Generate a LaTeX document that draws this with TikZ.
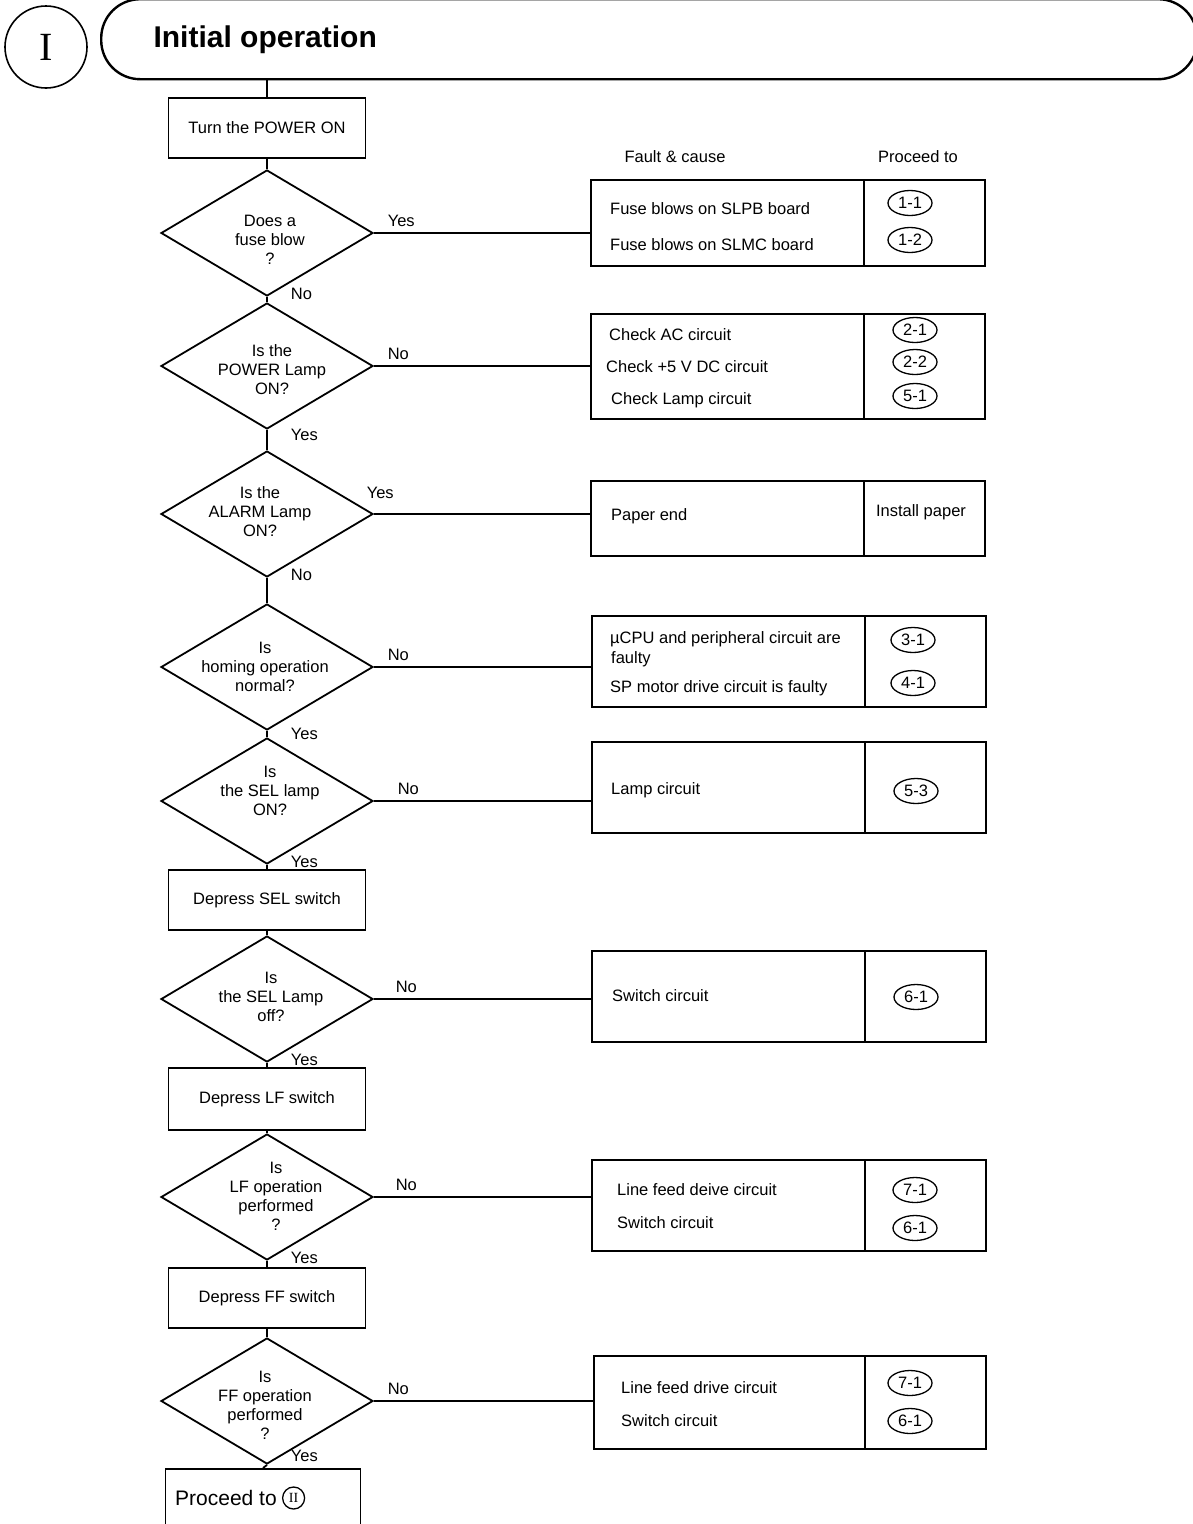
\documentclass[tikz,border=0pt]{standalone}
\usepackage{fontspec}
\setmainfont{Liberation Sans}
\newfontfamily\numfont{Liberation Serif}
\usetikzlibrary{shapes.geometric,positioning,calc}

\tikzset{
  stepbox/.style={draw, line width=1.8pt, minimum width=197pt, minimum height=60pt, inner sep=2pt},
  query/.style={draw, diamond, line width=1.8pt, minimum width=212pt, minimum height=126pt, inner sep=0pt},
  qtext/.style={align=center, inner sep=0pt},
  cause/.style={draw, line width=1.8pt, anchor=north west, minimum width=273pt, inner sep=0pt},
  target/.style={draw, line width=1.8pt, anchor=north west, minimum width=121pt, inner sep=0pt},
  item/.style={anchor=west, inner sep=0pt},
  ref/.style={draw, ellipse, line width=1.3pt, minimum width=44pt, minimum height=25pt, inner sep=0pt},
  side/.style={pos=0, anchor=south west, inner sep=1pt, xshift=12pt, yshift=4pt},
  down/.style={pos=0, anchor=west, inner sep=1pt, xshift=22pt, yshift=3pt},
  link/.style={line width=1.8pt},
}

\begin{document}
\begin{tikzpicture}[x=1pt, y=-1pt, font=\fontsize{16.5}{19}\selectfont]
    \useasboundingbox (0,0) rectangle (1193,1524);
    \clip (0,0) rectangle (1193,1524);

    % Header
    \node[circle, draw, line width=1.6pt, minimum size=82pt] (sec) at (46,47) {\numfont\fontsize{40}{42}\selectfont I};
    \node[draw, line width=2.4pt, rounded corners=39pt, anchor=north west, minimum width=1096pt, minimum height=80pt] (bar) at (100,-2) {};
    \node[anchor=west, font=\bfseries\fontsize{30}{34}\selectfont] (title) at (150,40) {Initial operation};

    % Column headings
    \node (hcause) at (675,157) {Fault \& cause};
    \node (hgo) at (918,157) {Proceed to};

    % Main column
    \node[stepbox] (power) at (267,128) {Turn the POWER ON};
    \node[query] (q1) at (267,233) {};
    \node[qtext] (q1t) at (270,240) {Does a\\fuse blow\\?};
    \node[query] (q2) at (267,366) {};
    \node[qtext] (q2t) at (272,370) {Is the\\POWER Lamp\\ON?};
    \node[query] (q3) at (267,514) {};
    \node[qtext] (q3t) at (260,512) {Is the\\ALARM Lamp\\ON?};
    \node[query] (q4) at (267,667) {};
    \node[qtext] (q4t) at (265,667) {Is\\homing operation\\normal?};
    \node[query] (q5) at (267,801) {};
    \node[qtext] (q5t) at (270,791) {Is\\the SEL lamp\\ON?};
    \node[stepbox] (sel) at (267,900) {Depress SEL switch};
    \node[query] (q6) at (267,999) {};
    \node[qtext] (q6t) at (271,997) {Is\\the SEL Lamp\\off?};
    \node[stepbox, minimum height=62pt] (lf) at (267,1099) {Depress LF switch};
    \node[query] (q7) at (267,1197) {};
    \node[qtext] (q7t) at (276,1196) {Is\\LF operation\\performed\\?};
    \node[stepbox] (ff) at (267,1298) {Depress FF switch};
    \node[query] (q8) at (267,1401) {};
    \node[qtext] (q8t) at (265,1405) {Is\\FF operation\\performed\\?};
    \node[draw, line width=1.8pt, anchor=north, minimum width=195pt, minimum height=80pt] (next) at (263,1468) {};
    \node[anchor=west, inner sep=0pt, font=\fontsize{21}{24}\selectfont] (nextt) at (175,1498) {Proceed to};
    \node[circle, draw, line width=1.3pt, minimum size=22pt, inner sep=0pt, right=5pt of nextt] (sec2) {\numfont\fontsize{14}{14}\selectfont II};

    % Fault & cause boxes
    \node[cause, minimum height=86pt] (c1) at (590,179) {};
    \node[target, minimum height=86pt] (p1) at (863,179) {};
    \node[item] (c1a) at (610,209) {Fuse blows on SLPB board};
    \node[item] (c1b) at (610,245) {Fuse blows on SLMC board};
    \node[ref] (r11) at (910,203) {1-1};
    \node[ref] (r12) at (910,240) {1-2};

    \node[cause, minimum height=105pt] (c2) at (590,313) {};
    \node[target, minimum height=105pt] (p2) at (863,313) {};
    \node[item] (c2a) at (609,335) {Check AC circuit};
    \node[item] (c2b) at (606,367) {Check +5 V DC circuit};
    \node[item] (c2c) at (611,400) {Check Lamp circuit};
    \node[ref] (r21) at (915,330) {2-1};
    \node[ref] (r22) at (915,362) {2-2};
    \node[ref] (r51) at (915,396) {5-1};

    \node[cause, minimum height=75pt] (c3) at (590,480) {};
    \node[target, minimum height=75pt] (p3) at (863,480) {};
    \node[item] (c3a) at (611,516) {Paper end};
    \node (p3a) at (921,512) {Install paper};

    \node[cause, minimum height=91pt] (c4) at (591,615) {};
    \node[target, minimum height=91pt] (p4) at (864,615) {};
    \node[item] (c4a) at (610,639) {µCPU and peripheral circuit are};
    \node[item] (c4b) at (611,659) {faulty};
    \node[item] (c4c) at (610,688) {SP motor drive circuit is faulty};
    \node[ref] (r31) at (913,640) {3-1};
    \node[ref] (r41) at (913,683) {4-1};

    \node[cause, minimum height=91pt] (c5) at (591,741) {};
    \node[target, minimum height=91pt] (p5) at (864,741) {};
    \node[item] (c5a) at (611,790) {Lamp circuit};
    \node[ref] (r53) at (916,791) {5-3};

    \node[cause, minimum height=91pt] (c6) at (591,950) {};
    \node[target, minimum height=91pt] (p6) at (864,950) {};
    \node[item] (c6a) at (612,996) {Switch circuit};
    \node[ref] (r61) at (916,997) {6-1};

    \node[cause, minimum height=91pt] (c7) at (591,1159) {};
    \node[target, minimum height=91pt] (p7) at (864,1159) {};
    \node[item] (c7a) at (617,1190) {Line feed deive circuit};
    \node[item] (c7b) at (617,1223) {Switch circuit};
    \node[ref] (r71) at (915,1190) {7-1};
    \node[ref] (r61b) at (915,1228) {6-1};

    \node[cause, minimum width=271pt, minimum height=93pt] (c8) at (593,1355) {};
    \node[target, minimum height=93pt] (p8) at (864,1355) {};
    \node[item] (c8a) at (621,1388) {Line feed drive circuit};
    \node[item] (c8b) at (621,1421) {Switch circuit};
    \node[ref] (r71b) at (910,1383) {7-1};
    \node[ref] (r61c) at (910,1421) {6-1};

    % Main flow
    \draw[link] (bar.south -| power.north) -- (power.north);
    \draw[link] (power.south) -- (q1.north);
    \draw[link] (q1.south) -- node[down] (n1) {No} (q2.north);
    \draw[link] (q2.south) -- node[down, yshift=-8pt] (n2) {Yes} (q3.north);
    \draw[link] (q3.south) -- node[down] (n3) {No} (q4.north);
    \draw[link] (q4.south) -- node[down, yshift=-6pt] (n4) {Yes} (q5.north);
    \draw[link] (q5.south) -- node[down] (n5) {Yes} (sel.north);
    \draw[link] (sel.south) -- (q6.north);
    \draw[link] (q6.south) -- node[down] (n6) {Yes} (lf.north);
    \draw[link] (lf.south) -- (q7.north);
    \draw[link] (q7.south) -- node[down] (n7) {Yes} (ff.north);
    \draw[link] (ff.south) -- (q8.north);
    \draw[link] (q8.south) -- node[down, yshift=6pt] (n8) {Yes} (next.north);

    % Branches to the fault boxes
    \draw[link] (q1.east) -- node[side] (s1) {Yes} (q1.east -| c1.west);
    \draw[link] (q2.east) -- node[side] (s2) {No} (q2.east -| c2.west);
    \draw[link] (q3.east) -- node[side, xshift=-21pt, yshift=9pt] (s3) {Yes} (q3.east -| c3.west);
    \draw[link] (q4.east) -- node[side] (s4) {No} (q4.east -| c4.west);
    \draw[link] (q5.east) -- node[side, xshift=10pt] (s5) {No} (q5.east -| c5.west);
    \draw[link] (q6.east) -- node[side, xshift=8pt] (s6) {No} (q6.east -| c6.west);
    \draw[link] (q7.east) -- node[side, xshift=8pt] (s7) {No} (q7.east -| c7.west);
    \draw[link] (q8.east) -- node[side] (s8) {No} (q8.east -| c8.west);

\end{tikzpicture}
\end{document}
